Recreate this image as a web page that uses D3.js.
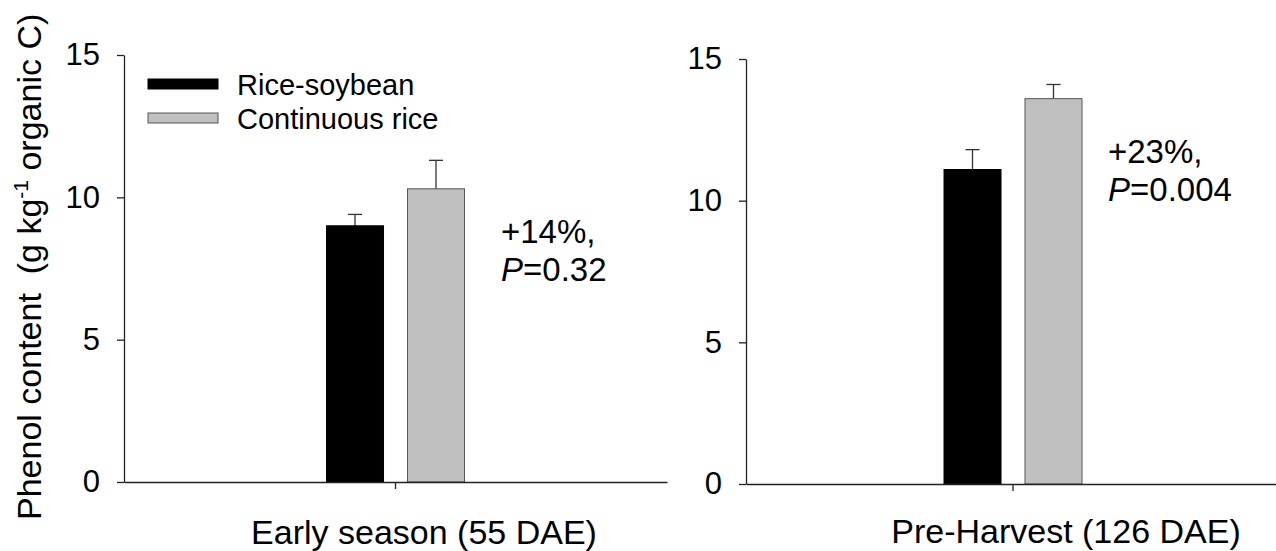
<!DOCTYPE html>
<html>
<head>
<meta charset="utf-8">
<script src="https://cdn.jsdelivr.net/npm/d3@7"></script>
<style>
  html, body { margin: 0; padding: 0; background: #fff; }
  svg { display: block; font-family: "Liberation Sans", Arial, Helvetica, sans-serif; }
</style>
</head>
<body>
<svg id="chart" width="1276" height="551"></svg>
<script>
// Sampling dates (one panel each)
const categories = ["Early season (55 DAE)", "Pre-Harvest (126 DAE)"];
// Rotation systems
const series = ["Rice-soybean", "Continuous rice"];
// Phenol content means and standard errors, g kg-1 organic C
const riceSoybean = [9.0, 11.1];
const riceSoybeanSE = [0.4, 0.7];
const continuousRice = [10.3, 13.6];
const continuousRiceSE = [1.0, 0.5];
// Relative increase and significance for each date
const changeLabels = ["+14%,", "+23%,"];
const pValues = ["0.32", "0.004"];
const yTicks = [0, 5, 10, 15];

const fills = ["#000000", "#c0c0c0"];
const strokes = ["#000000", "#555555"];

const svg = d3.select("#chart");

// Panel geometry
const panels = [
  { left: 124, right: 667, top: 55, bottom: 482, labelX: 424, labelY: 544, noteX: 501, noteY: 243 },
  { left: 746, right: 1280, top: 59, bottom: 484, labelX: 1066, labelY: 543, noteX: 1108, noteY: 163 }
];

panels.forEach((p, i) => {
  const g = svg.append("g");
  const y = d3.scaleLinear().domain([0, 15]).range([p.bottom, p.top]);
  const x0 = d3.scaleBand().domain([categories[i]]).range([p.left, p.right]);
  const cx = x0(categories[i]) + x0.bandwidth() / 2;
  const x1 = d3.scaleBand().domain(series).range([cx - 69, cx + 69]).paddingInner(0.296);

  const rows = series.map((s, k) => ({
    name: s,
    value: k === 0 ? riceSoybean[i] : continuousRice[i],
    se: k === 0 ? riceSoybeanSE[i] : continuousRiceSE[i],
    k
  }));

  // error bars (upper whisker only)
  const eb = g.selectAll("g.err").data(rows).join("g").attr("class", "err");
  eb.append("line")
    .attr("x1", d => x1(d.name) + x1.bandwidth() / 2)
    .attr("x2", d => x1(d.name) + x1.bandwidth() / 2)
    .attr("y1", d => y(d.value))
    .attr("y2", d => y(d.value + d.se))
    .attr("stroke", "#333").attr("stroke-width", 1.3);
  eb.append("line")
    .attr("x1", d => x1(d.name) + x1.bandwidth() / 2 - 7)
    .attr("x2", d => x1(d.name) + x1.bandwidth() / 2 + 7)
    .attr("y1", d => y(d.value + d.se))
    .attr("y2", d => y(d.value + d.se))
    .attr("stroke", "#333").attr("stroke-width", 1.3);

  // bars
  g.selectAll("rect.bar").data(rows).join("rect")
    .attr("class", "bar")
    .attr("x", d => x1(d.name))
    .attr("y", d => y(d.value))
    .attr("width", x1.bandwidth())
    .attr("height", d => y(0) - y(d.value))
    .attr("fill", d => fills[d.k])
    .attr("stroke", d => strokes[d.k])
    .attr("stroke-width", 1);

  // y axis
  const ya = g.append("g")
    .attr("transform", `translate(${p.left},0)`)
    .call(d3.axisLeft(y).tickValues(yTicks).tickSize(7).tickSizeOuter(0).tickPadding(17));
  ya.selectAll("text").attr("font-size", 31).attr("fill", "#000")
    .attr("font-family", "'Liberation Sans', Arial, sans-serif");
  ya.selectAll("line, path").attr("stroke", "#222").attr("stroke-width", 1.3);

  // x axis
  const xa = g.append("g")
    .attr("transform", `translate(0,${p.bottom})`)
    .call(d3.axisBottom(x0).tickSize(7).tickSizeOuter(0).tickFormat(""));
  xa.selectAll("line, path").attr("stroke", "#222").attr("stroke-width", 1.3);

  // category label
  g.append("text")
    .attr("x", p.labelX).attr("y", p.labelY)
    .attr("text-anchor", "middle")
    .attr("font-size", 34)
    .text(categories[i]);

  // change / significance note
  const note = g.append("text").attr("font-size", 33);
  note.append("tspan").attr("x", p.noteX).attr("y", p.noteY).text(changeLabels[i]);
  const l2 = note.append("tspan").attr("x", p.noteX).attr("y", p.noteY + 38);
  l2.append("tspan").attr("font-style", "italic").text("P");
  l2.append("tspan").text("=" + pValues[i]);
});

// y-axis title
const yt = svg.append("text")
  .attr("transform", "translate(41,520) rotate(-90)")
  .attr("font-size", 34)
  .attr("text-anchor", "start")
  .style("white-space", "pre");
yt.append("tspan").text("Phenol content  (g kg");
yt.append("tspan").attr("font-size", 21).attr("dy", -13).text("-1");
yt.append("tspan").attr("dy", 13).text(" organic C)");

// legend
const leg = svg.append("g");
series.forEach((s, k) => {
  leg.append("rect")
    .attr("x", 148).attr("y", 79 + k * 34)
    .attr("width", 70).attr("height", 10)
    .attr("fill", fills[k]).attr("stroke", strokes[k]).attr("stroke-width", 1);
  leg.append("text")
    .attr("x", 237).attr("y", 94.5 + k * 34)
    .attr("font-size", 29)
    .text(s);
});
</script>
</body>
</html>
